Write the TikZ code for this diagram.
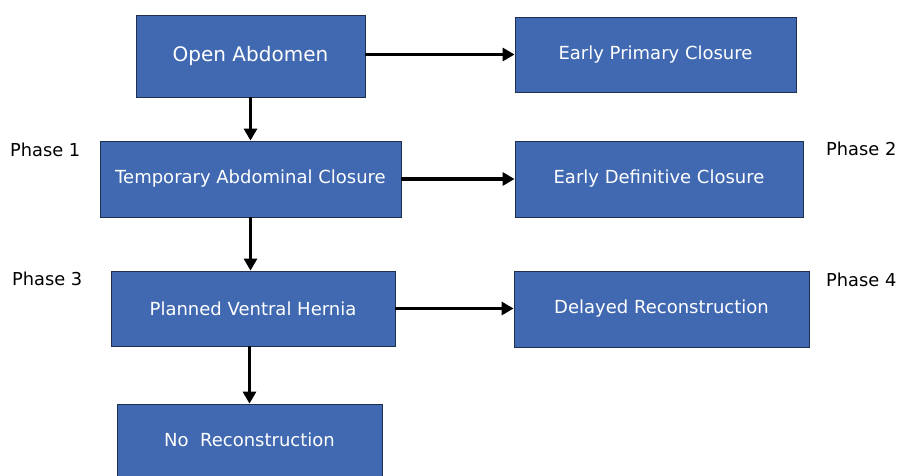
\documentclass[tikz,border=0pt]{standalone}
\usepackage{fontspec}
\setmainfont{DejaVu Sans}
\usetikzlibrary{arrows.meta}
\definecolor{boxblue}{HTML}{4169B1}
\definecolor{boxline}{HTML}{1F2F4F}
\begin{document}
\begin{tikzpicture}[x=1pt,y=-1pt,
  box/.style={rectangle, fill=boxblue, draw=boxline, line width=0.8pt, text=white, inner sep=0pt,
    font=\fontsize{18}{20}\selectfont},
  phase/.style={anchor=west, inner sep=0pt, font=\fontsize{17.8}{20}\selectfont},
  arr/.style={line width=3.6pt, -{Triangle[length=12pt,width=13pt]}}]
\useasboundingbox (0,0) rectangle (899,476);
\node[box, minimum width=229pt, minimum height=82pt, font=\fontsize{20}{22}\selectfont] (oa) at (250.5,56) {Open Abdomen};
\node[box, minimum width=281pt, minimum height=75pt] (epc) at (655.5,54.5) {Early Primary Closure};
\node[box, minimum width=301pt, minimum height=76pt] (tac) at (250.5,179) {Temporary Abdominal Closure};
\node[box, minimum width=288pt, minimum height=76pt] (edc) at (659,179) {Early Definitive Closure};
\node[box, minimum width=284pt, minimum height=75pt] (pvh) at (253,308.5) {Planned Ventral Hernia};
\node[box, minimum width=295pt, minimum height=76pt] (dr) at (661.5,309) {Delayed Reconstruction};
\node[box, minimum width=265pt, minimum height=72pt] (nr) at (249.5,440) {No\ \ Reconstruction};
\node[phase] (p1) at (10,150) {Phase 1};
\node[phase] (p2) at (826,149) {Phase 2};
\node[phase] (p3) at (12,279) {Phase 3};
\node[phase] (p4) at (826,280) {Phase 4};
\draw[arr] (oa.east |- epc.west) -- (epc.west);
\draw[arr] (tac.east) -- (edc.west);
\draw[arr] (pvh.east) -- (pvh.east -| dr.west);
\draw[arr] (oa.south) -- (tac.north);
\draw[arr] (tac.south) -- (tac.south |- pvh.north);
\draw[arr] (nr.north |- pvh.south) -- (nr.north);
\end{tikzpicture}
\end{document}
